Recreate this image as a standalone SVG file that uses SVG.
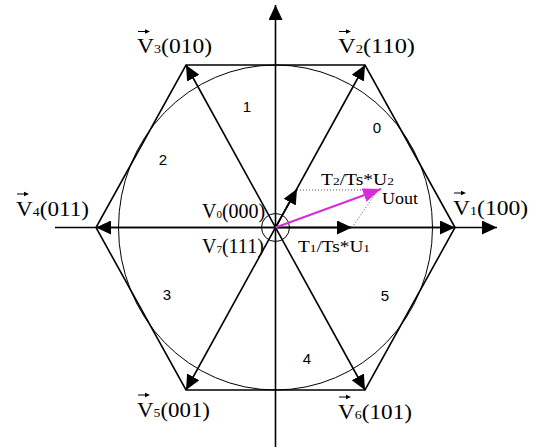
<svg xmlns="http://www.w3.org/2000/svg" width="534" height="447" viewBox="0 0 534 447">
<defs>
<style>
.ln{stroke:#000;stroke-width:1.6;fill:none}
.vl{font-family:"Liberation Serif",serif;font-size:20px;fill:#000}
.sm{font-family:"Liberation Serif",serif;font-size:16px;fill:#000}
.sn{font-family:"Liberation Sans",Arial,sans-serif;font-size:15px;fill:#000;text-anchor:middle}
.dot{stroke:#555;stroke-width:1;stroke-dasharray:1 2;fill:none}
.ov{stroke:#000;stroke-width:1;fill:none}
.oa{fill:#000}
</style>
<marker id="ah" markerUnits="userSpaceOnUse" viewBox="0 0 15 14" markerWidth="15" markerHeight="14" refX="15" refY="7" orient="auto-start-reverse">
<path d="M0,0 L15,7 L0,14 Z" fill="#000"/>
</marker>
<marker id="am" markerUnits="userSpaceOnUse" viewBox="0 0 18 14" markerWidth="18" markerHeight="14" refX="18" refY="7" orient="auto">
<path d="M0,0 L18,7 L0,14 Z" fill="#d92bd9"/>
</marker>
</defs>
<rect width="534" height="447" fill="#fff"/>

<g id="connectors">
<line class="ln" x1="55" y1="227.5" x2="497" y2="227.5" marker-end="url(#ah)"/>
<line class="ln" x1="275.5" y1="447" x2="275.5" y2="5" marker-end="url(#ah)"/>
<polygon class="ln" points="455,227.5 365,65 186,65 96,227.5 186,390 365,390"/>
<ellipse class="ov" cx="275.5" cy="227.5" rx="157" ry="162.5" stroke-width="1.3"/>
<line class="ln" x1="96" y1="227.5" x2="455" y2="227.5" marker-start="url(#ah)" marker-end="url(#ah)"/>
<line class="ln" x1="186" y1="65" x2="365" y2="390" marker-start="url(#ah)" marker-end="url(#ah)"/>
<line class="ln" x1="365" y1="65" x2="186" y2="390" marker-start="url(#ah)" marker-end="url(#ah)"/>
<circle class="ov" cx="275.5" cy="227.5" r="14" stroke-width="1.3"/>
<line class="ln" x1="275.5" y1="227.5" x2="352" y2="227.5" marker-end="url(#ah)"/>
<line class="ln" x1="275.5" y1="227.5" x2="297" y2="189" marker-end="url(#ah)"/>
<line class="dot" x1="297" y1="190" x2="372" y2="190"/>
<line class="dot" x1="352" y1="227.5" x2="376" y2="193"/>
<line x1="275.5" y1="227.5" x2="381" y2="189" stroke="#d92bd9" stroke-width="2" marker-end="url(#am)"/>
</g>

<g id="V3"><path class="ov" d="M138,31.5 H146"/><path class="oa" d="M145,29.3 L150,31.5 L145,33.7 Z"/><text class="vl" x="137" y="53" textLength="75" lengthAdjust="spacingAndGlyphs">V<tspan font-size="12">3</tspan>(010)</text></g>
<g id="V2"><path class="ov" d="M339,31.5 H347"/><path class="oa" d="M346,29.3 L351,31.5 L346,33.7 Z"/><text class="vl" x="338" y="53" textLength="77" lengthAdjust="spacingAndGlyphs">V<tspan font-size="12">2</tspan>(110)</text></g>
<g id="V4"><path class="ov" d="M17,194 H25"/><path class="oa" d="M24,191.8 L29,194 L24,196.2 Z"/><text class="vl" x="16" y="216" textLength="73" lengthAdjust="spacingAndGlyphs">V<tspan font-size="12">4</tspan>(011)</text></g>
<g id="V1"><path class="ov" d="M454,193 H462"/><path class="oa" d="M461,190.8 L466,193 L461,195.2 Z"/><text class="vl" x="453" y="215" textLength="75" lengthAdjust="spacingAndGlyphs">V<tspan font-size="12">1</tspan>(100)</text></g>
<g id="V5"><path class="ov" d="M138,395 H146"/><path class="oa" d="M145,392.8 L150,395 L145,397.2 Z"/><text class="vl" x="137" y="417" textLength="73" lengthAdjust="spacingAndGlyphs">V<tspan font-size="12">5</tspan>(001)</text></g>
<g id="V6"><path class="ov" d="M339,397 H347"/><path class="oa" d="M346,394.8 L351,397 L346,399.2 Z"/><text class="vl" x="338" y="419" textLength="74" lengthAdjust="spacingAndGlyphs">V<tspan font-size="12">6</tspan>(101)</text></g>

<g id="V0"><text class="vl" x="202" y="218" font-size="17">V<tspan font-size="11">0</tspan>(000)</text></g>
<g id="V7"><text class="vl" x="202" y="253" font-size="17">V<tspan font-size="11">7</tspan>(111)</text></g>

<g id="U1label"><text class="sm" x="298" y="252" textLength="72" lengthAdjust="spacingAndGlyphs">T<tspan font-size="11">1</tspan>/Ts*U<tspan font-size="11">1</tspan></text></g>
<g id="U2label"><text class="sm" x="321" y="185" textLength="73" lengthAdjust="spacingAndGlyphs">T<tspan font-size="11">2</tspan>/Ts*U<tspan font-size="11">2</tspan></text></g>
<g id="Uout"><text class="sm" x="382" y="204" textLength="36" lengthAdjust="spacingAndGlyphs">Uout</text></g>

<g id="sectors">
<text class="sn" x="247" y="112">1</text>
<text class="sn" x="377" y="133">0</text>
<text class="sn" x="163" y="165">2</text>
<text class="sn" x="167" y="300">3</text>
<text class="sn" x="307" y="364">4</text>
<text class="sn" x="385" y="301">5</text>
</g>
</svg>
